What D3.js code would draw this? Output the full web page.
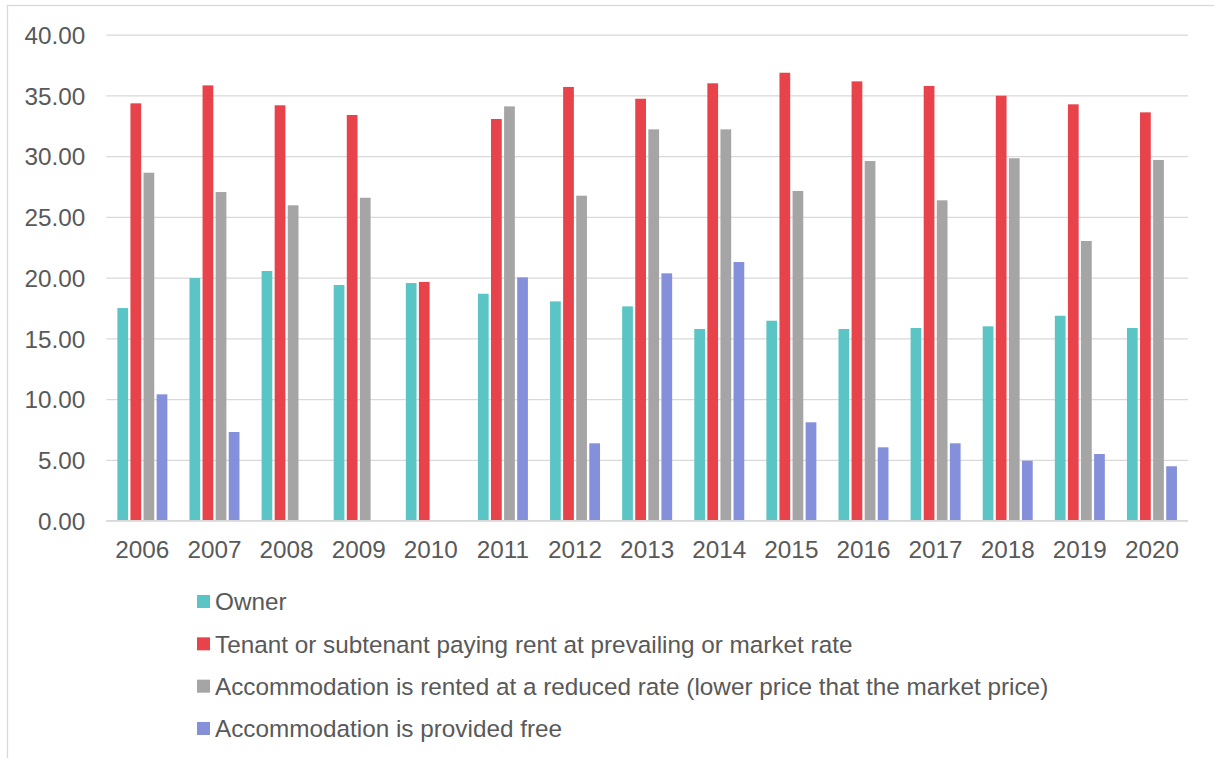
<!DOCTYPE html>
<html>
<head>
<meta charset="utf-8">
<script src="https://cdn.jsdelivr.net/npm/d3@7"></script>
<style>
  html, body { margin: 0; padding: 0; background: #fff; }
  svg { display: block; font-family: "Liberation Sans", Arial, sans-serif; }
</style>
</head>
<body>
<svg id="chart" width="1214" height="758"></svg>
<script>
// Housing tenure shares by year (%)
const years = ["2006","2007","2008","2009","2010","2011","2012","2013","2014","2015","2016","2017","2018","2019","2020"];
const seriesNames = [
  "Owner",
  "Tenant or subtenant paying rent at prevailing or market rate",
  "Accommodation is rented at a reduced rate (lower price that the market price)",
  "Accommodation is provided free"
];
const owner   = [17.50, 19.97, 20.55, 19.40, 19.56, 18.68, 18.05, 17.64, 15.78, 16.46, 15.78, 15.86, 16.00, 16.87, 15.86];
const tenant  = [34.35, 35.83, 34.19, 33.39, 19.65, 33.06, 35.70, 34.73, 36.00, 36.87, 36.16, 35.78, 34.98, 34.27, 33.61];
const reduced = [28.64, 27.05, 25.96, 26.58, null,  34.10, 26.75, 32.21, 32.21, 27.14, 29.60, 26.37, 29.83, 23.02, 29.69];
const free    = [10.40, 7.30,  null,  null,  null,  20.03, 6.37,  20.36, 21.29, 8.10,  6.04,  6.37,  4.94,  5.49,  4.48];
const yTicks  = [0, 5, 10, 15, 20, 25, 30, 35, 40];
const colors  = ["#5BC5C5", "#E8424A", "#A5A5A5", "#8590DA"];

const seriesValues = [owner, tenant, reduced, free];

const svg = d3.select("#chart");
const textColor = "#595959";
const gridColor = "#D9D9D9";
const fontSize = 24.3;

// chart frame (only top and left edges fall inside the canvas)
svg.append("rect")
  .attr("x", 7.5).attr("y", 5.5)
  .attr("width", 1240).attr("height", 780)
  .attr("fill", "none").attr("stroke", gridColor).attr("stroke-width", 1.3);

const plot = { left: 106.3, right: 1188, top: 34.7, bottom: 520.7 };

const y = d3.scaleLinear().domain([0, 40]).range([plot.bottom, plot.top]);
const x = d3.scaleBand().domain(years).range([plot.left, plot.right]).padding(0);
const xInner = d3.scaleBand().domain(d3.range(seriesNames.length))
  .range([-25, 25]).paddingInner(0.18);

// horizontal gridlines
const yAxis = d3.axisLeft(y).tickValues(yTicks).tickFormat(d3.format(".2f"))
  .tickSize(-(plot.right - plot.left)).tickPadding(21);
const gy = svg.append("g").attr("transform", `translate(${plot.left},0)`).call(yAxis);
gy.select(".domain").remove();
gy.selectAll(".tick line").attr("stroke", gridColor).attr("stroke-width", 1.3);
gy.selectAll(".tick text")
  .attr("fill", textColor).attr("font-size", fontSize).attr("dy", "0.36em");

// bars
const groups = svg.append("g").selectAll("g")
  .data(seriesValues).join("g")
  .attr("fill", (d, i) => colors[i]);

groups.each(function(vals, si) {
  d3.select(this).selectAll("rect")
    .data(vals.map((v, yi) => ({ v, year: years[yi] })).filter(d => d.v != null))
    .join("rect")
    .attr("x", d => x(d.year) + x.bandwidth() / 2 + xInner(si))
    .attr("width", xInner.bandwidth())
    .attr("y", d => y(d.v))
    .attr("height", d => y(0) - y(d.v));
});

// baseline
svg.append("line")
  .attr("x1", plot.left).attr("x2", plot.right)
  .attr("y1", y(0)).attr("y2", y(0))
  .attr("stroke", gridColor).attr("stroke-width", 1.5);

// category axis labels
const xAxis = d3.axisBottom(x).tickSize(0).tickPadding(20);
const gx = svg.append("g").attr("transform", `translate(0,${plot.bottom})`).call(xAxis);
gx.select(".domain").remove();
gx.selectAll(".tick text").attr("fill", textColor).attr("font-size", fontSize);

// legend
const legend = svg.append("g").attr("transform", "translate(197,0)");
const legendY = d3.scalePoint().domain(d3.range(seriesNames.length)).range([601.5, 728.5]);
const item = legend.selectAll("g").data(seriesNames).join("g")
  .attr("transform", (d, i) => `translate(0,${legendY(i)})`);
item.append("rect")
  .attr("x", 0).attr("y", -6.5).attr("width", 13).attr("height", 13)
  .attr("fill", (d, i) => colors[i]);
item.append("text")
  .attr("x", 18).attr("dy", "0.36em")
  .attr("font-size", fontSize).attr("fill", textColor)
  .text(d => d);
</script>
</body>
</html>
